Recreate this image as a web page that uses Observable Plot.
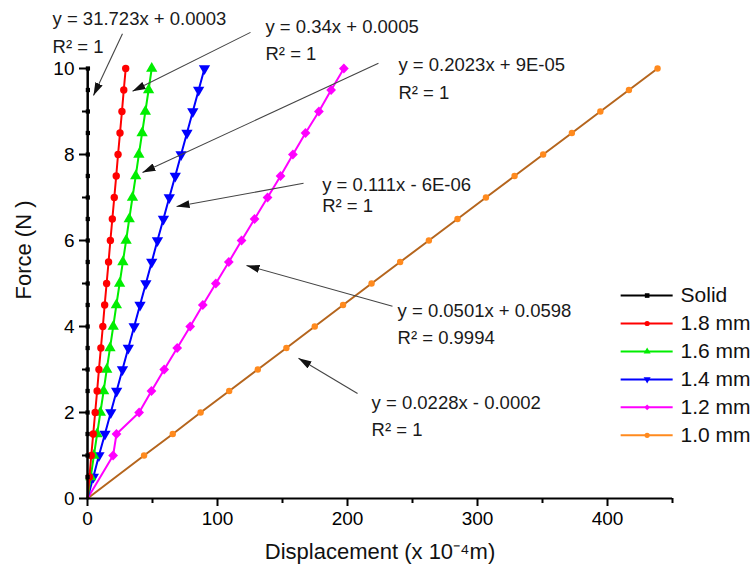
<!DOCTYPE html>
<html><head><meta charset="utf-8">
<script src="https://cdn.jsdelivr.net/npm/d3@7"></script>
<script src="https://cdn.jsdelivr.net/npm/@observablehq/plot@0.6"></script>
<style>body{margin:0;background:#fff}</style>
</head><body><div id="chart"></div>
<script>
// ---- data ----
const seriesNames = ["Solid", "1.8 mm", "1.6 mm", "1.4 mm", "1.2 mm", "1.0 mm"];
const forceFull = [0,0.5,1,1.5,2,2.5,3,3.5,4,4.5,5,5.5,6,6.5,7,7.5,8,8.5,9,9.5,10];
const forceFromOne = [0,1,1.5,2,2.5,3,3.5,4,4.5,5,5.5,6,6.5,7,7.5,8,8.5,9,9.5,10];
const dispSolid = [0,0.016,0.032,0.047,0.063,0.079,0.095,0.11,0.126,0.142,0.158,0.173,0.189,0.205,0.221,0.236,0.252,0.268,0.284,0.3,0.315];
const disp18 = [0,1.5,2.9,4.4,5.9,7.4,8.8,10.3,11.8,13.2,14.7,16.2,17.6,19.1,20.6,22.1,23.5,25.0,26.5,27.9,29.4];
const disp16 = [0,2.5,4.9,7.4,9.9,12.4,14.8,17.3,19.8,22.2,24.7,27.2,29.7,32.1,34.6,37.1,39.5,42.0,44.5,47.0,49.4];
const disp14 = [0,4.5,8.8,13.4,17.9,22.4,26.9,31.4,35.9,40.4,44.9,49.4,53.8,58.4,62.9,67.5,72.0,76.5,81.0,85.5,90.0];
const disp12 = [0,19.7,22.3,39.7,49.2,59.0,69.0,79.0,88.7,98.7,108.7,118.5,128.5,138.5,148.5,158.0,167.7,178.0,187.4,197.2];
const disp10 = [0,43.5,65.6,87.0,109.0,131.0,153.0,174.8,196.6,218.5,240.5,262.6,284.6,306.5,328.5,350.5,372.6,394.5,416.5,438.5];

const xTicks = [0,100,200,300,400];
const xMinorTicks = [50,150,250,350,450];
const yTicks = [0,2,4,6,8,10];
const yMinorTicks = [1,3,5,7,9];
const xLabel = "Displacement (x 10\u207B\u2074m)";
const yLabel = "Force (N )";

// trendline annotations
const annEq = ["y = 31.723x + 0.0003","y = 0.34x + 0.0005","y = 0.2023x + 9E-05","y = 0.111x - 6E-06","y = 0.0501x + 0.0598","y = 0.0228x - 0.0002"];
const annR2 = ["R\u00B2 = 1","R\u00B2 = 1","R\u00B2 = 1","R\u00B2 = 1","R\u00B2 = 0.9994","R\u00B2 = 1"];
const annX  = [-26.9,136.9,239.2,180.5,238.5,218.5];
const annY  = [11.16,10.96,10.07,7.28,4.37,2.21];
const annR2Y = [10.49,10.34,9.44,6.79,3.72,1.58];
const arrowX1 = [26.9,125.4,223.8,166.2,234.6,207.7];
const arrowY1 = [10.81,10.84,10.12,7.33,4.47,2.44];
const arrowX2 = [4.6,34.6,42.3,68.5,122.3,162.3];
const arrowY2 = [9.37,9.47,7.58,6.79,5.42,3.26];

// ---- styling (not data) ----
const styles = [
  {force: forceFull,    disp: dispSolid, line:"#000000", mark:"#000000", legend:"#000000", symbol:"square",   rotate:0,   r:2.4},
  {force: forceFull,    disp: disp18,    line:"#ff0000", mark:"#ff0000", legend:"#ff0000", symbol:"circle",   rotate:0,   r:3.7},
  {force: forceFull,    disp: disp16,    line:"#00ee00", mark:"#00ee00", legend:"#00ee00", symbol:"triangle", rotate:0,   r:4.2},
  {force: forceFull,    disp: disp14,    line:"#0000ff", mark:"#0000ff", legend:"#0000ff", symbol:"triangle", rotate:180, r:4.2},
  {force: forceFromOne, disp: disp12,    line:"#ff00ff", mark:"#ff00ff", legend:"#ff00ff", symbol:"diamond2", rotate:0,   r:4.4},
  {force: forceFromOne, disp: disp10,    line:"#b5651d", mark:"#ff8a1e", legend:"#ff8a1e", symbol:"circle",   rotate:0,   r:3.2}
];
const legendRowY = [4.72,4.07,3.42,2.77,2.12,1.47];
const legendX1 = 410.5, legendX2 = 450.5, legendMarkX = 430.5, legendTextX = 456.2;

const rows = styles.map((s, k) => s.force.map((f, i) => ({series: seriesNames[k], force: f, disp: s.disp[i]})));
const anns = annEq.map((t, i) => ({eq: t, r2: annR2[i], x: annX[i], y: annY[i], yr: annR2Y[i],
  x1: arrowX1[i], y1: arrowY1[i], x2: arrowX2[i], y2: arrowY2[i]}));
const legendRows = seriesNames.map((n, i) => ({name: n, y: legendRowY[i]}));

const marks = [];
// data lines (orange at the back)
for (let k = styles.length - 1; k >= 1; --k) {
  const s = styles[k];
  marks.push(Plot.line(rows[k], {x: "disp", y: "force", stroke: s.line, strokeWidth: 2}));
  marks.push(Plot.dot(rows[k].filter(d => d.force > 0), {x: "disp", y: "force", symbol: s.symbol, rotate: s.rotate, r: s.r, fill: s.mark, stroke: "none"}));
}
// axes
marks.push(
  Plot.axisX(xTicks, {tickSize: 8, tickPadding: 5, strokeWidth: 2, fontSize: 19, label: null}),
  Plot.axisX(xMinorTicks, {tickSize: 5, strokeWidth: 2, tickFormat: () => "", label: null}),
  Plot.axisY(yTicks, {tickSize: 8, tickPadding: 5, strokeWidth: 2, fontSize: 19, label: null}),
  Plot.axisY(yMinorTicks, {tickSize: 5, strokeWidth: 2, tickFormat: () => "", label: null}),
  Plot.ruleY([0], {x1: 0, x2: 450, strokeWidth: 2}),
  Plot.ruleX([0], {y1: 0, y2: 10, strokeWidth: 2}),
  Plot.text([xLabel], {frameAnchor: "bottom", dy: 60, fontSize: 22, fill: "#111"}),
  Plot.text([yLabel], {frameAnchor: "left", rotate: -90, dx: -64, dy: 16, fontSize: 22, fill: "#111"})
);
// black solid line on top of axis
marks.push(Plot.line(rows[0], {x: "disp", y: "force", stroke: "#000", strokeWidth: 2}));
marks.push(Plot.dot(rows[0].filter(d => d.force > 0), {x: "disp", y: "force", symbol: "square", r: 2.4, fill: "#000"}));
// annotations
marks.push(
  Plot.link(anns, {x1: "x1", y1: "y1", x2: "x2", y2: "y2", stroke: "#444", strokeWidth: 1.1}),
  Plot.text(anns, {x: "x", y: "y", text: "eq", textAnchor: "start", fontSize: 18.5, fill: "#1a1a1a"}),
  Plot.text(anns, {x: "x", y: "yr", text: "r2", textAnchor: "start", fontSize: 18.5, fill: "#1a1a1a"})
);
// legend
marks.push(
  Plot.ruleY(legendRows, {x1: legendX1, x2: legendX2, y: "y", stroke: (d, i) => styles[i].legend, strokeWidth: 2}),
  Plot.dot(legendRows, {x: legendMarkX, y: "y", symbol: (d, i) => styles[i].symbol, rotate: (d, i) => styles[i].rotate, fill: (d, i) => styles[i].legend, r: 2.6}),
  Plot.text(legendRows, {x: legendTextX, y: "y", text: "name", textAnchor: "start", fontSize: 21, fill: "#111"})
);

const chart = Plot.plot({
  width: 756, height: 572,
  marginLeft: 87, marginRight: 84, marginTop: 68, marginBottom: 74,
  x: {domain: [0, 450]},
  y: {domain: [0, 10]},
  symbol: {type: "identity"},
  color: {type: "identity"},
  style: {fontFamily: "'Liberation Sans', Arial, sans-serif", fontSize: "19px", color: "#000", background: "#fff", overflow: "visible"},
  marks
});

// filled arrowheads
const svg = chart.tagName.toLowerCase() === "svg" ? chart : chart.querySelector("svg");
const ns = "http://www.w3.org/2000/svg";
const defs = document.createElementNS(ns, "defs");
defs.innerHTML = '<marker id="ah" viewBox="0 0 10 10" refX="10" refY="5" markerWidth="13" markerHeight="8" markerUnits="userSpaceOnUse" orient="auto" preserveAspectRatio="none"><path d="M0,0L10,5L0,10z" fill="#111"/></marker>';
svg.insertBefore(defs, svg.firstChild);
svg.querySelectorAll('g[aria-label="link"] path, g[aria-label="link"] line').forEach(p => p.setAttribute("marker-end", "url(#ah)"));

document.getElementById("chart").appendChild(chart);
</script>
</body></html>
